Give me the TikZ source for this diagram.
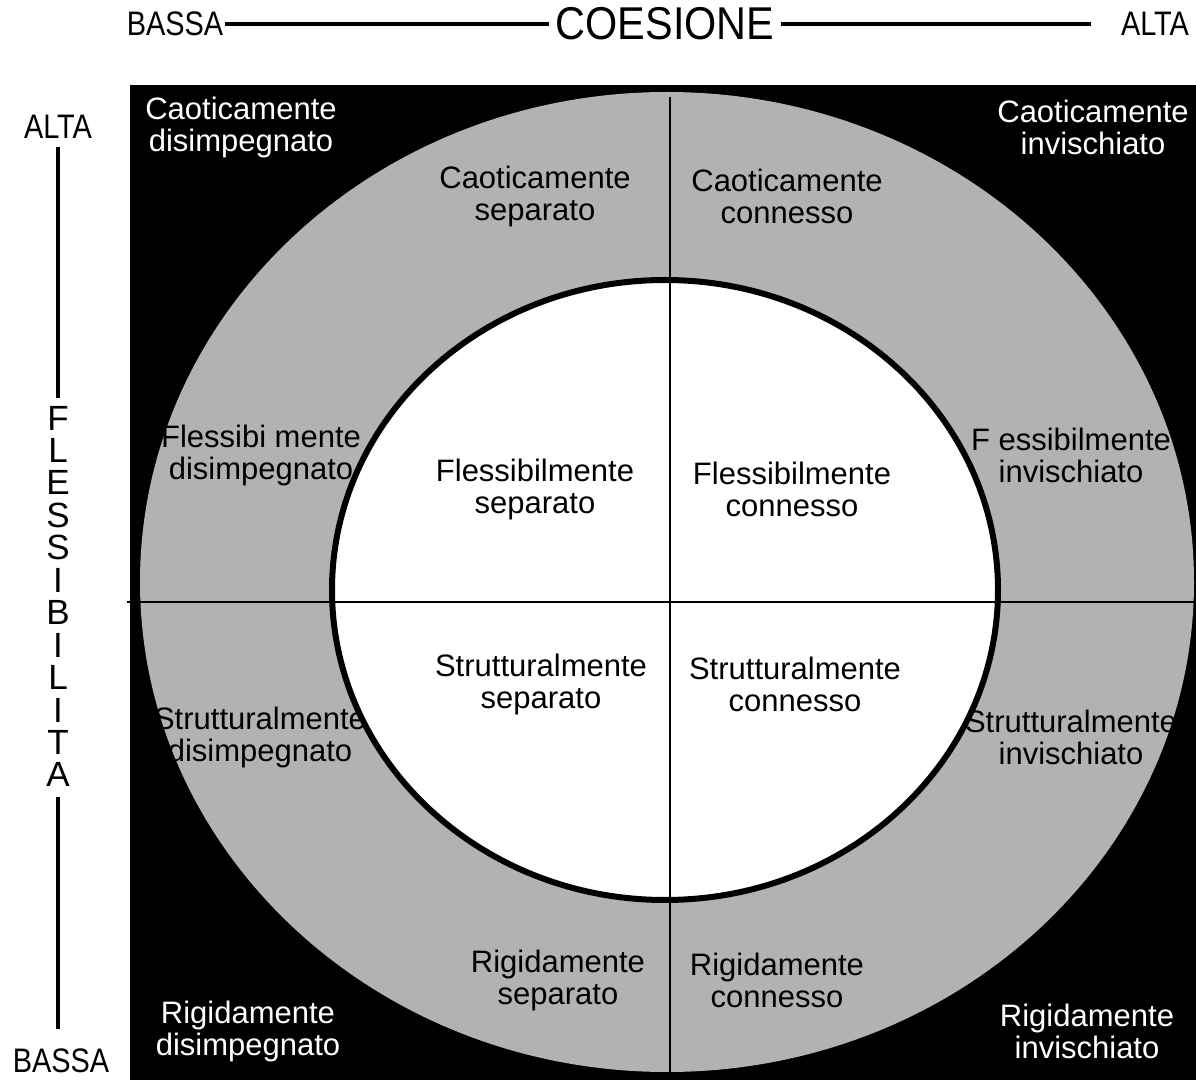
\documentclass[tikz,border=0pt]{standalone}
\usepackage{fontspec}
\setmainfont{Liberation Sans}

\begin{document}
\begin{tikzpicture}[x=0.5pt,y=-0.5pt,
	lab/.style={align=center,font=\fontsize{15.5}{16}\selectfont},
	wlab/.style={lab,text=white},
	axlab/.style={font=\fontsize{17}{18}\selectfont,inner sep=1pt,xscale=0.85},
	letter/.style={font=\fontsize{17.5}{18}\selectfont,inner sep=0pt}]
	\useasboundingbox (0,0) rectangle (1196,1080);

	% campo nero, anello grigio, ellisse bianca
	\fill[black] (130,85) rectangle (1196,1080);
	\begin{scope}
		\clip (130,85) rectangle (1196,1080);
		\fill[black!30] (667,582) ellipse [x radius=527, y radius=490];
	\end{scope}
	\filldraw[fill=white,line width=3pt] (665,590) ellipse [x radius=333, y radius=310];
	\draw[line width=1pt] (670,97) -- (670,1080);
	\draw[line width=1pt] (127,602) -- (1196,602);

	% coesione
	\node[axlab] (bassaC) at (175,24) {BASSA};
	\node[font=\fontsize{23}{24}\selectfont,xscale=0.9] (coesione) at (665,24) {COESIONE};
	\node[axlab] (altaC) at (1155,24) {ALTA};
	\draw[line width=2pt] (bassaC) -- (coesione);
	\draw[line width=2pt,shorten >=14pt] (coesione) -- (altaC);

	% flessibilita
	\node[axlab] (altaF) at (58,127) {ALTA};
	\node[axlab] (bassaF) at (61,1061) {BASSA};
	\foreach \l [count=\i] in {F,L,E,S,S,I,B,I,L,I,T,A}
		\node[letter] (f\i) at (58,{418+32.45*(\i-1)}) {\l};
	\draw[line width=2pt,shorten <=3pt,shorten >=4pt] (altaF) -- (f1);
	\draw[line width=2pt,shorten <=5pt,shorten >=9pt] (f12.south) -- (f12.south |- bassaF.north);

	% angoli
	\node[wlab] (cd) at (241,127) {Caoticamente\\disimpegnato};
	\node[wlab] (ci) at (1093,127) {Caoticamente\\invischiato};
	\node[wlab] (rd) at (248,1031) {Rigidamente\\disimpegnato};
	\node[wlab] (ri) at (1087,1031) {Rigidamente\\invischiato};

	% anello
	\node[lab] (cs) at (535,196) {Caoticamente\\separato};
	\node[lab] (cc) at (787,196) {Caoticamente\\connesso};
	\node[lab] (fd) at (261,455) {Flessibi mente\\disimpegnato};
	\node[lab] (fi) at (1071,455) {F essibilmente\\invischiato};
	\node[lab] (sd) at (260,737) {Strutturalmente\\disimpegnato};
	\node[lab] (si) at (1071,737) {Strutturalmente\\invischiato};
	\node[lab] (rs) at (558,980) {Rigidamente\\separato};
	\node[lab] (rc) at (777,980) {Rigidamente\\connesso};

	% centro
	\node[lab] (fs) at (535,489) {Flessibilmente\\separato};
	\node[lab] (fc) at (792,489) {Flessibilmente\\connesso};
	\node[lab] (ss) at (541,684) {Strutturalmente\\separato};
	\node[lab] (sc) at (795,684) {Strutturalmente\\connesso};
\end{tikzpicture}
\end{document}
